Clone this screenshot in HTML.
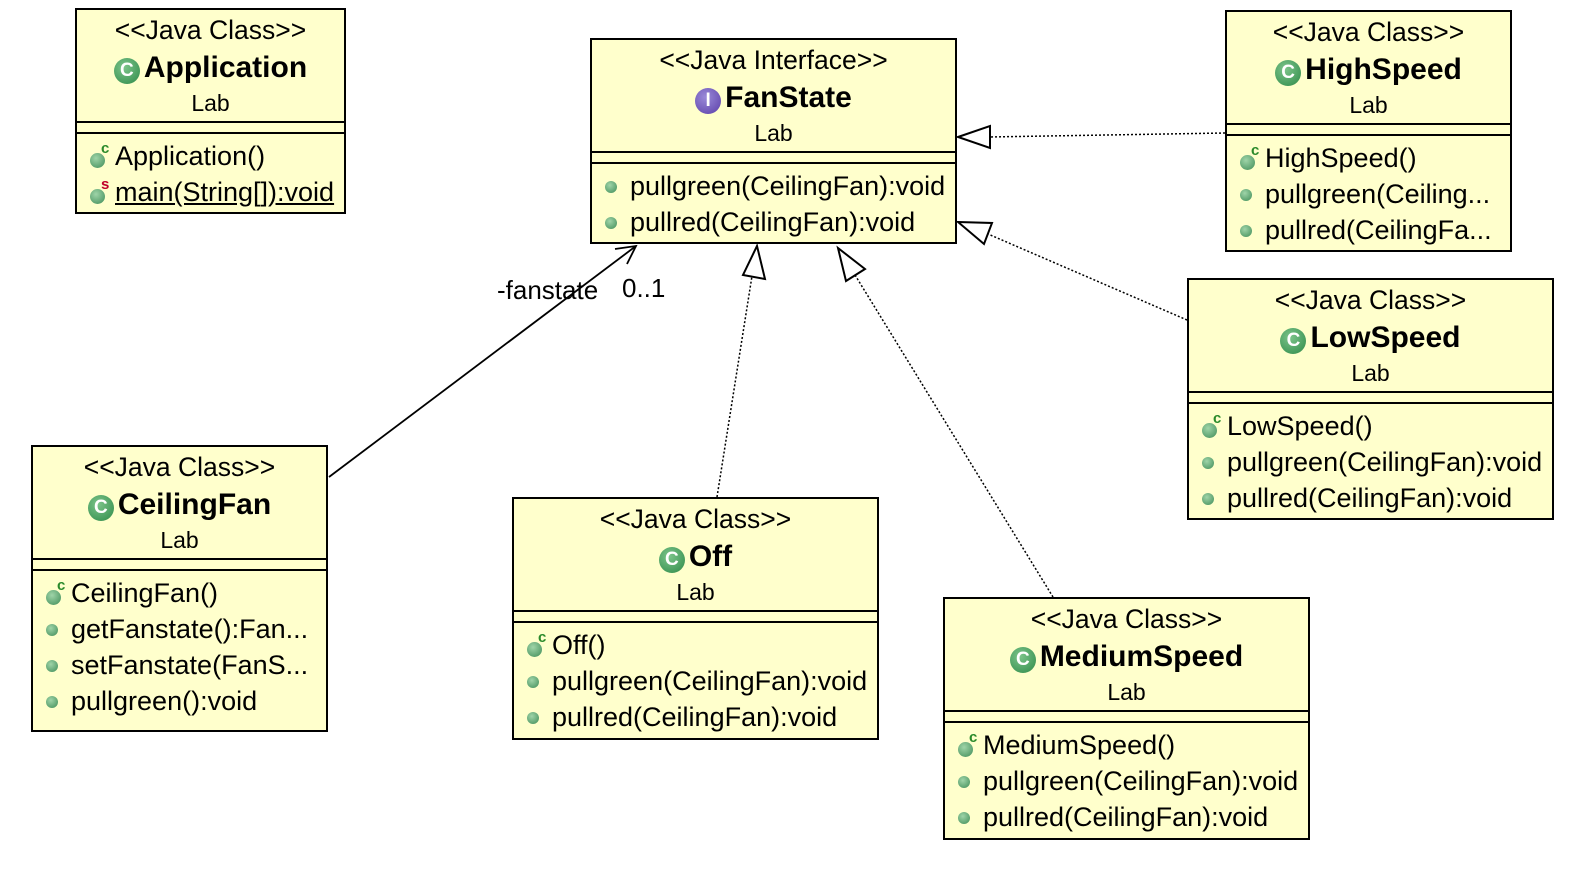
<!DOCTYPE html>
<html><head><meta charset="utf-8"><style>
html,body{margin:0;padding:0;background:#fff;width:1571px;height:873px;overflow:hidden;position:relative;font-family:"Liberation Sans",Arial,sans-serif;color:#000}
.box{position:absolute;box-sizing:border-box;border:2px solid #000;background:#ffffcc}
.hd{position:relative;height:111px;border-bottom:2px solid #000}
.gp{height:9px;border-bottom:2px solid #000}
.st,.nm,.lab{position:absolute;left:0;right:0;text-align:center;white-space:nowrap}
.st{top:6px;line-height:28px;font-size:26.5px}
.nm{top:40px;line-height:36px;font-size:30px;font-weight:bold}
.lab{top:79px;line-height:28px;font-size:23px}
.ci{display:inline-block;width:26px;height:26px;border-radius:50%;background:radial-gradient(circle at 40% 35%,#7cc48a,#2e8a48);color:#fff;font-size:19px;line-height:26px;text-align:center;vertical-align:1px;margin-right:4px;font-weight:bold}
.ci.i{background:radial-gradient(circle at 40% 35%,#9a8ad8,#5a3ea8)}
.mb{padding-top:4px}
.m{position:relative;height:36px;line-height:36px;font-size:27px;padding-left:38px;white-space:nowrap}
.d{position:absolute;left:13px;top:13px;width:12px;height:12px;border-radius:50%;background:radial-gradient(circle at 40% 35%,#9fd4a8,#3f8c57)}
.m.k .d{left:13px;top:15px;width:15px;height:15px}
.sup{position:absolute;left:24px;top:3px;font-size:15px;line-height:15px;font-weight:bold;color:#2a8a2a}
.sup.s{color:#c0002a}
.u{text-decoration:underline}
.lbl{position:absolute;font-size:26px;line-height:28px;white-space:nowrap}
</style></head><body>

<svg width="1571" height="873" style="position:absolute;left:0;top:0">
<g fill="#fff" stroke="#000" stroke-width="2">
<line x1="1225" y1="133" x2="988" y2="137" stroke-dasharray="2,2" stroke-width="1.5"/>
<polygon points="958,137 990,126 990,148"/>
<line x1="1187" y1="320" x2="988" y2="234" stroke-dasharray="2,2" stroke-width="1.5"/>
<polygon points="958,222 992,223 984,244"/>
<line x1="717" y1="497" x2="752" y2="276" stroke-dasharray="2,2" stroke-width="1.5"/>
<polygon points="757,246 765,279 743,275"/>
<line x1="1053" y1="597" x2="855" y2="275" stroke-dasharray="2,2" stroke-width="1.5"/>
<polygon points="838,248 865,269 846,281"/>
<line x1="329" y1="477" x2="636" y2="246" stroke-width="1.8"/>
<polyline points="615,249 636,246 627,264" fill="none" stroke-width="1.8"/>
</g>
</svg>

<div class="lbl" style="left:497px;top:276px">-fanstate</div>
<div class="lbl" style="left:622px;top:274px">0..1</div>

<div class="box" style="left:75px;top:8px;width:271px;height:206px">
<div class="hd"><div class="st">&lt;&lt;Java Class&gt;&gt;</div><div class="nm"><span class="ci">C</span>Application</div><div class="lab">Lab</div></div>
<div class="gp"></div>
<div class="mb">
<div class="m k"><span class="d"></span><span class="sup">c</span>Application()</div>
<div class="m k"><span class="d"></span><span class="sup s">s</span><span class="u">main(String[]):void</span></div>
</div></div>

<div class="box" style="left:590px;top:38px;width:367px;height:206px">
<div class="hd"><div class="st">&lt;&lt;Java Interface&gt;&gt;</div><div class="nm"><span class="ci i">I</span>FanState</div><div class="lab">Lab</div></div>
<div class="gp"></div>
<div class="mb">
<div class="m"><span class="d"></span>pullgreen(CeilingFan):void</div>
<div class="m"><span class="d"></span>pullred(CeilingFan):void</div>
</div></div>

<div class="box" style="left:1225px;top:10px;width:287px;height:242px">
<div class="hd"><div class="st">&lt;&lt;Java Class&gt;&gt;</div><div class="nm"><span class="ci">C</span>HighSpeed</div><div class="lab">Lab</div></div>
<div class="gp"></div>
<div class="mb">
<div class="m k"><span class="d"></span><span class="sup">c</span>HighSpeed()</div>
<div class="m"><span class="d"></span>pullgreen(Ceiling...</div>
<div class="m"><span class="d"></span>pullred(CeilingFa...</div>
</div></div>

<div class="box" style="left:1187px;top:278px;width:367px;height:242px">
<div class="hd"><div class="st">&lt;&lt;Java Class&gt;&gt;</div><div class="nm"><span class="ci">C</span>LowSpeed</div><div class="lab">Lab</div></div>
<div class="gp"></div>
<div class="mb">
<div class="m k"><span class="d"></span><span class="sup">c</span>LowSpeed()</div>
<div class="m"><span class="d"></span>pullgreen(CeilingFan):void</div>
<div class="m"><span class="d"></span>pullred(CeilingFan):void</div>
</div></div>

<div class="box" style="left:31px;top:445px;width:297px;height:287px">
<div class="hd"><div class="st">&lt;&lt;Java Class&gt;&gt;</div><div class="nm"><span class="ci">C</span>CeilingFan</div><div class="lab">Lab</div></div>
<div class="gp"></div>
<div class="mb">
<div class="m k"><span class="d"></span><span class="sup">c</span>CeilingFan()</div>
<div class="m"><span class="d"></span>getFanstate():Fan...</div>
<div class="m"><span class="d"></span>setFanstate(FanS...</div>
<div class="m"><span class="d"></span>pullgreen():void</div>
</div></div>

<div class="box" style="left:512px;top:497px;width:367px;height:243px">
<div class="hd"><div class="st">&lt;&lt;Java Class&gt;&gt;</div><div class="nm"><span class="ci">C</span>Off</div><div class="lab">Lab</div></div>
<div class="gp"></div>
<div class="mb">
<div class="m k"><span class="d"></span><span class="sup">c</span>Off()</div>
<div class="m"><span class="d"></span>pullgreen(CeilingFan):void</div>
<div class="m"><span class="d"></span>pullred(CeilingFan):void</div>
</div></div>

<div class="box" style="left:943px;top:597px;width:367px;height:243px">
<div class="hd"><div class="st">&lt;&lt;Java Class&gt;&gt;</div><div class="nm"><span class="ci">C</span>MediumSpeed</div><div class="lab">Lab</div></div>
<div class="gp"></div>
<div class="mb">
<div class="m k"><span class="d"></span><span class="sup">c</span>MediumSpeed()</div>
<div class="m"><span class="d"></span>pullgreen(CeilingFan):void</div>
<div class="m"><span class="d"></span>pullred(CeilingFan):void</div>
</div></div>

</body></html>
